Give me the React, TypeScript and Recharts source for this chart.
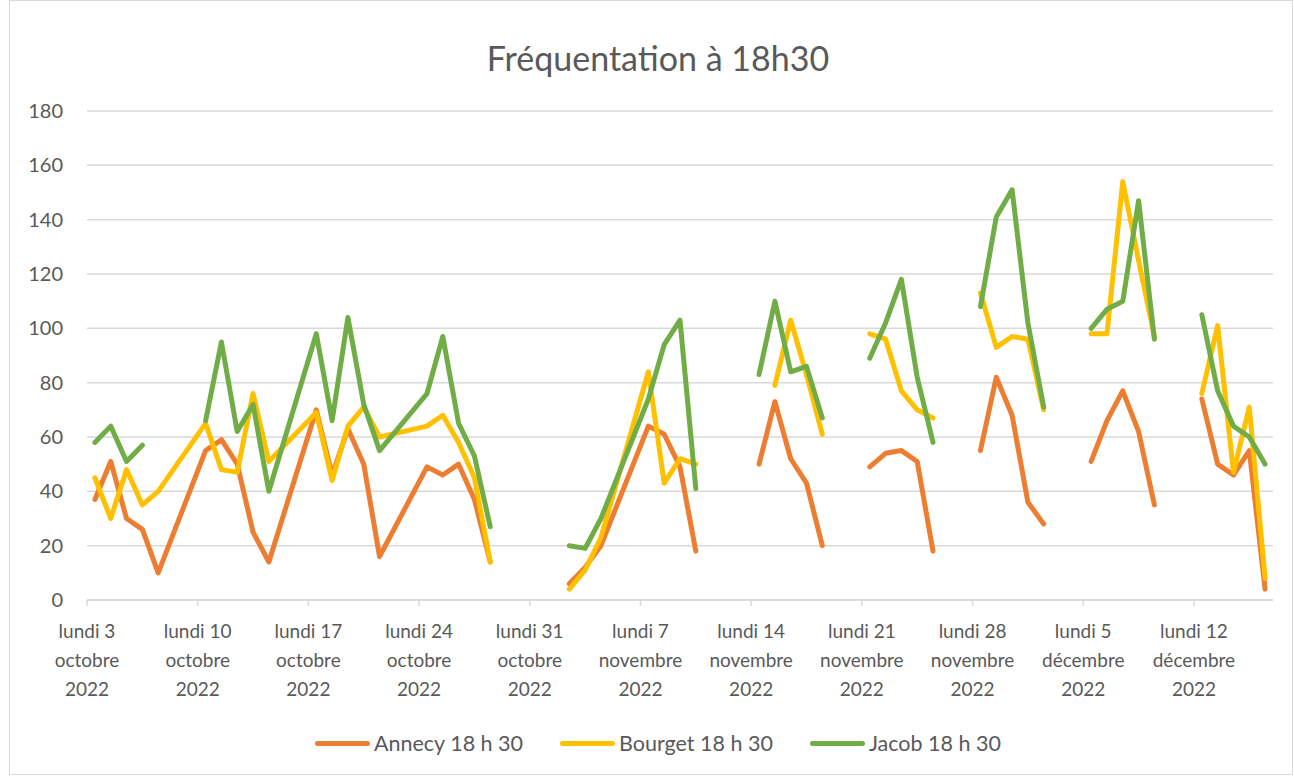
import React from 'react';
import { LineChart, Line, XAxis, YAxis, CartesianGrid } from 'recharts';

const FONT = 'Lato, "Open Sans", sans-serif';
const TEXT = '#595959';
const GRID = '#d9d9d9';

// jours relevés (les lignes vides coupent les courbes)
const dates = [
  '2022-10-03', '2022-10-04', '2022-10-05', '2022-10-06', '2022-10-07',
  '2022-10-10', '2022-10-11', '2022-10-12', '2022-10-13', '2022-10-14',
  '2022-10-17', '2022-10-18', '2022-10-19', '2022-10-20', '2022-10-21',
  '2022-10-24', '2022-10-25', '2022-10-26', '2022-10-27', '2022-10-28',
  '2022-10-31', '2022-11-01',
  '2022-11-02', '2022-11-03', '2022-11-04',
  '2022-11-07', '2022-11-08', '2022-11-09', '2022-11-10', '2022-11-11',
  '2022-11-14', '2022-11-15', '2022-11-16', '2022-11-17', '2022-11-18', '2022-11-19', '2022-11-20',
  '2022-11-21', '2022-11-22', '2022-11-23', '2022-11-24', '2022-11-25', '2022-11-26', '2022-11-27',
  '2022-11-28', '2022-11-29', '2022-11-30', '2022-12-01', '2022-12-02', '2022-12-03', '2022-12-04',
  '2022-12-05', '2022-12-06', '2022-12-07', '2022-12-08', '2022-12-09', '2022-12-10', '2022-12-11',
  '2022-12-12', '2022-12-13', '2022-12-14', '2022-12-15', '2022-12-16',
];

const annecy = [
  37, 51, 30, 26, 10,
  55, 59, 50, 25, 14,
  70, 46, 63, 50, 16,
  49, 46, 50, 37, 14,
  null, null,
  6, 12, 20,
  64, 61, 49, 18, null,
  50, 73, 52, 43, 20, null, null,
  49, 54, 55, 51, 18, null, null,
  55, 82, 68, 36, 28, null, null,
  51, 66, 77, 62, 35, null, null,
  74, 50, 46, 55, 4,
];

const bourget = [
  45, 30, 48, 35, 40,
  65, 48, 47, 76, 51,
  69, 44, 64, 71, 60,
  64, 68, 58, 45, 14,
  null, null,
  4, 11, 23,
  84, 43, 52, 50, null,
  null, 79, 103, 83, 61, null, null,
  98, 96, 77, 70, 67, null, null,
  113, 93, 97, 96, 70, null, null,
  98, 98, 154, 125, 97, null, null,
  76, 101, 47, 71, 8,
];

const jacob = [
  58, 64, 51, 57, null,
  66, 95, 62, 72, 40,
  98, 66, 104, 72, 55,
  76, 97, 65, 53, 27,
  null, null,
  20, 19, 30,
  74, 94, 103, 41, null,
  83, 110, 84, 86, 67, null, null,
  89, 102, 118, 82, 58, null, null,
  108, 141, 151, 102, 71, null, null,
  100, 107, 110, 147, 96, null, null,
  105, 77, 64, 60, 50,
];

const tickLabels = [
  ['lundi 3', 'octobre', '2022'],
  ['lundi 10', 'octobre', '2022'],
  ['lundi 17', 'octobre', '2022'],
  ['lundi 24', 'octobre', '2022'],
  ['lundi 31', 'octobre', '2022'],
  ['lundi 7', 'novembre', '2022'],
  ['lundi 14', 'novembre', '2022'],
  ['lundi 21', 'novembre', '2022'],
  ['lundi 28', 'novembre', '2022'],
  ['lundi 5', 'décembre', '2022'],
  ['lundi 12', 'décembre', '2022'],
];

const yTicks = [0, 20, 40, 60, 80, 100, 120, 140, 160, 180];

const series = [
  { key: 'annecy', name: 'Annecy 18 h 30', color: '#ED7D31' },
  { key: 'bourget', name: 'Bourget 18 h 30', color: '#FFC000' },
  { key: 'jacob', name: 'Jacob 18 h 30', color: '#70AD47' },
];

const DAY = 86400000;
const start = Date.UTC(2022, 9, 3);
const dayOf = (iso: string) => {
  const [y, m, d] = iso.split('-').map(Number);
  return Math.round((Date.UTC(y, m - 1, d) - start) / DAY);
};

// point au milieu de la journée, comme l'axe de dates d'Excel
const chartData = dates.map((d, i) => ({
  x: dayOf(d) + 0.5,
  annecy: annecy[i],
  bourget: bourget[i],
  jacob: jacob[i],
}));

const xTicks = tickLabels.map((_, i) => i * 7);

const DateTick = ({ x, y, payload }: any) => {
  const lines = tickLabels[Math.round(payload.value / 7)] || [];
  return (
    <text x={x} y={y} textAnchor="middle" fill={TEXT} fontSize={19} fontFamily={FONT}>
      {lines.map((l, i) => (
        <tspan key={i} x={x} dy={i === 0 ? 30 : 29}>{l}</tspan>
      ))}
    </text>
  );
};

export default function App() {
  return (
    <div style={{ position: 'relative', width: 1294, height: 776, background: '#fff', fontFamily: FONT }}>
      <style>{'body{margin:0}'}</style>
      <div
        style={{
          position: 'absolute', left: 9, top: 0, right: 1, bottom: 1,
          border: `1px solid ${GRID}`, boxSizing: 'border-box',
        }}
      />
      <div
        style={{
          position: 'absolute', top: 38, left: 0, width: 1316, textAlign: 'center',
          fontSize: 34, color: TEXT, lineHeight: '40px',
        }}
      >
        Fréquentation à 18h30
      </div>
      <LineChart
        width={1294}
        height={776}
        data={chartData}
        margin={{ top: 111, right: 21, left: 0, bottom: 0 }}
        style={{ position: 'absolute', left: 0, top: 0 }}
      >
        <CartesianGrid vertical={false} stroke={GRID} strokeWidth={1.5} />
        <XAxis
          dataKey="x"
          type="number"
          domain={[0, 75]}
          ticks={xTicks}
          interval={0}
          height={176}
          stroke={GRID}
          strokeWidth={1.5}
          tickSize={6}
          tick={<DateTick />}
        />
        <YAxis
          domain={[0, 180]}
          ticks={yTicks}
          width={87}
          axisLine={false}
          tickLine={false}
          tickMargin={18}
          tick={{ fill: TEXT, fontSize: 20, fontFamily: FONT }}
        />
        {series.map((s) => (
          <Line
            key={s.key}
            dataKey={s.key}
            name={s.name}
            type="linear"
            stroke={s.color}
            strokeWidth={5}
            strokeLinecap="round"
            strokeLinejoin="round"
            dot={false}
            activeDot={false}
            isAnimationActive={false}
          />
        ))}
      </LineChart>
      <div
        style={{
          position: 'absolute', top: 729, left: 0, width: 1316, display: 'flex',
          justifyContent: 'center', gap: 37, fontSize: 21.5, color: TEXT, lineHeight: '28px',
        }}
      >
        {series.map((s) => (
          <div key={s.key} style={{ display: 'flex', alignItems: 'center' }}>
            <span
              style={{
                display: 'inline-block', width: 55, height: 5, borderRadius: 3,
                background: s.color, marginRight: 4,
              }}
            />
            {s.name}
          </div>
        ))}
      </div>
    </div>
  );
}
